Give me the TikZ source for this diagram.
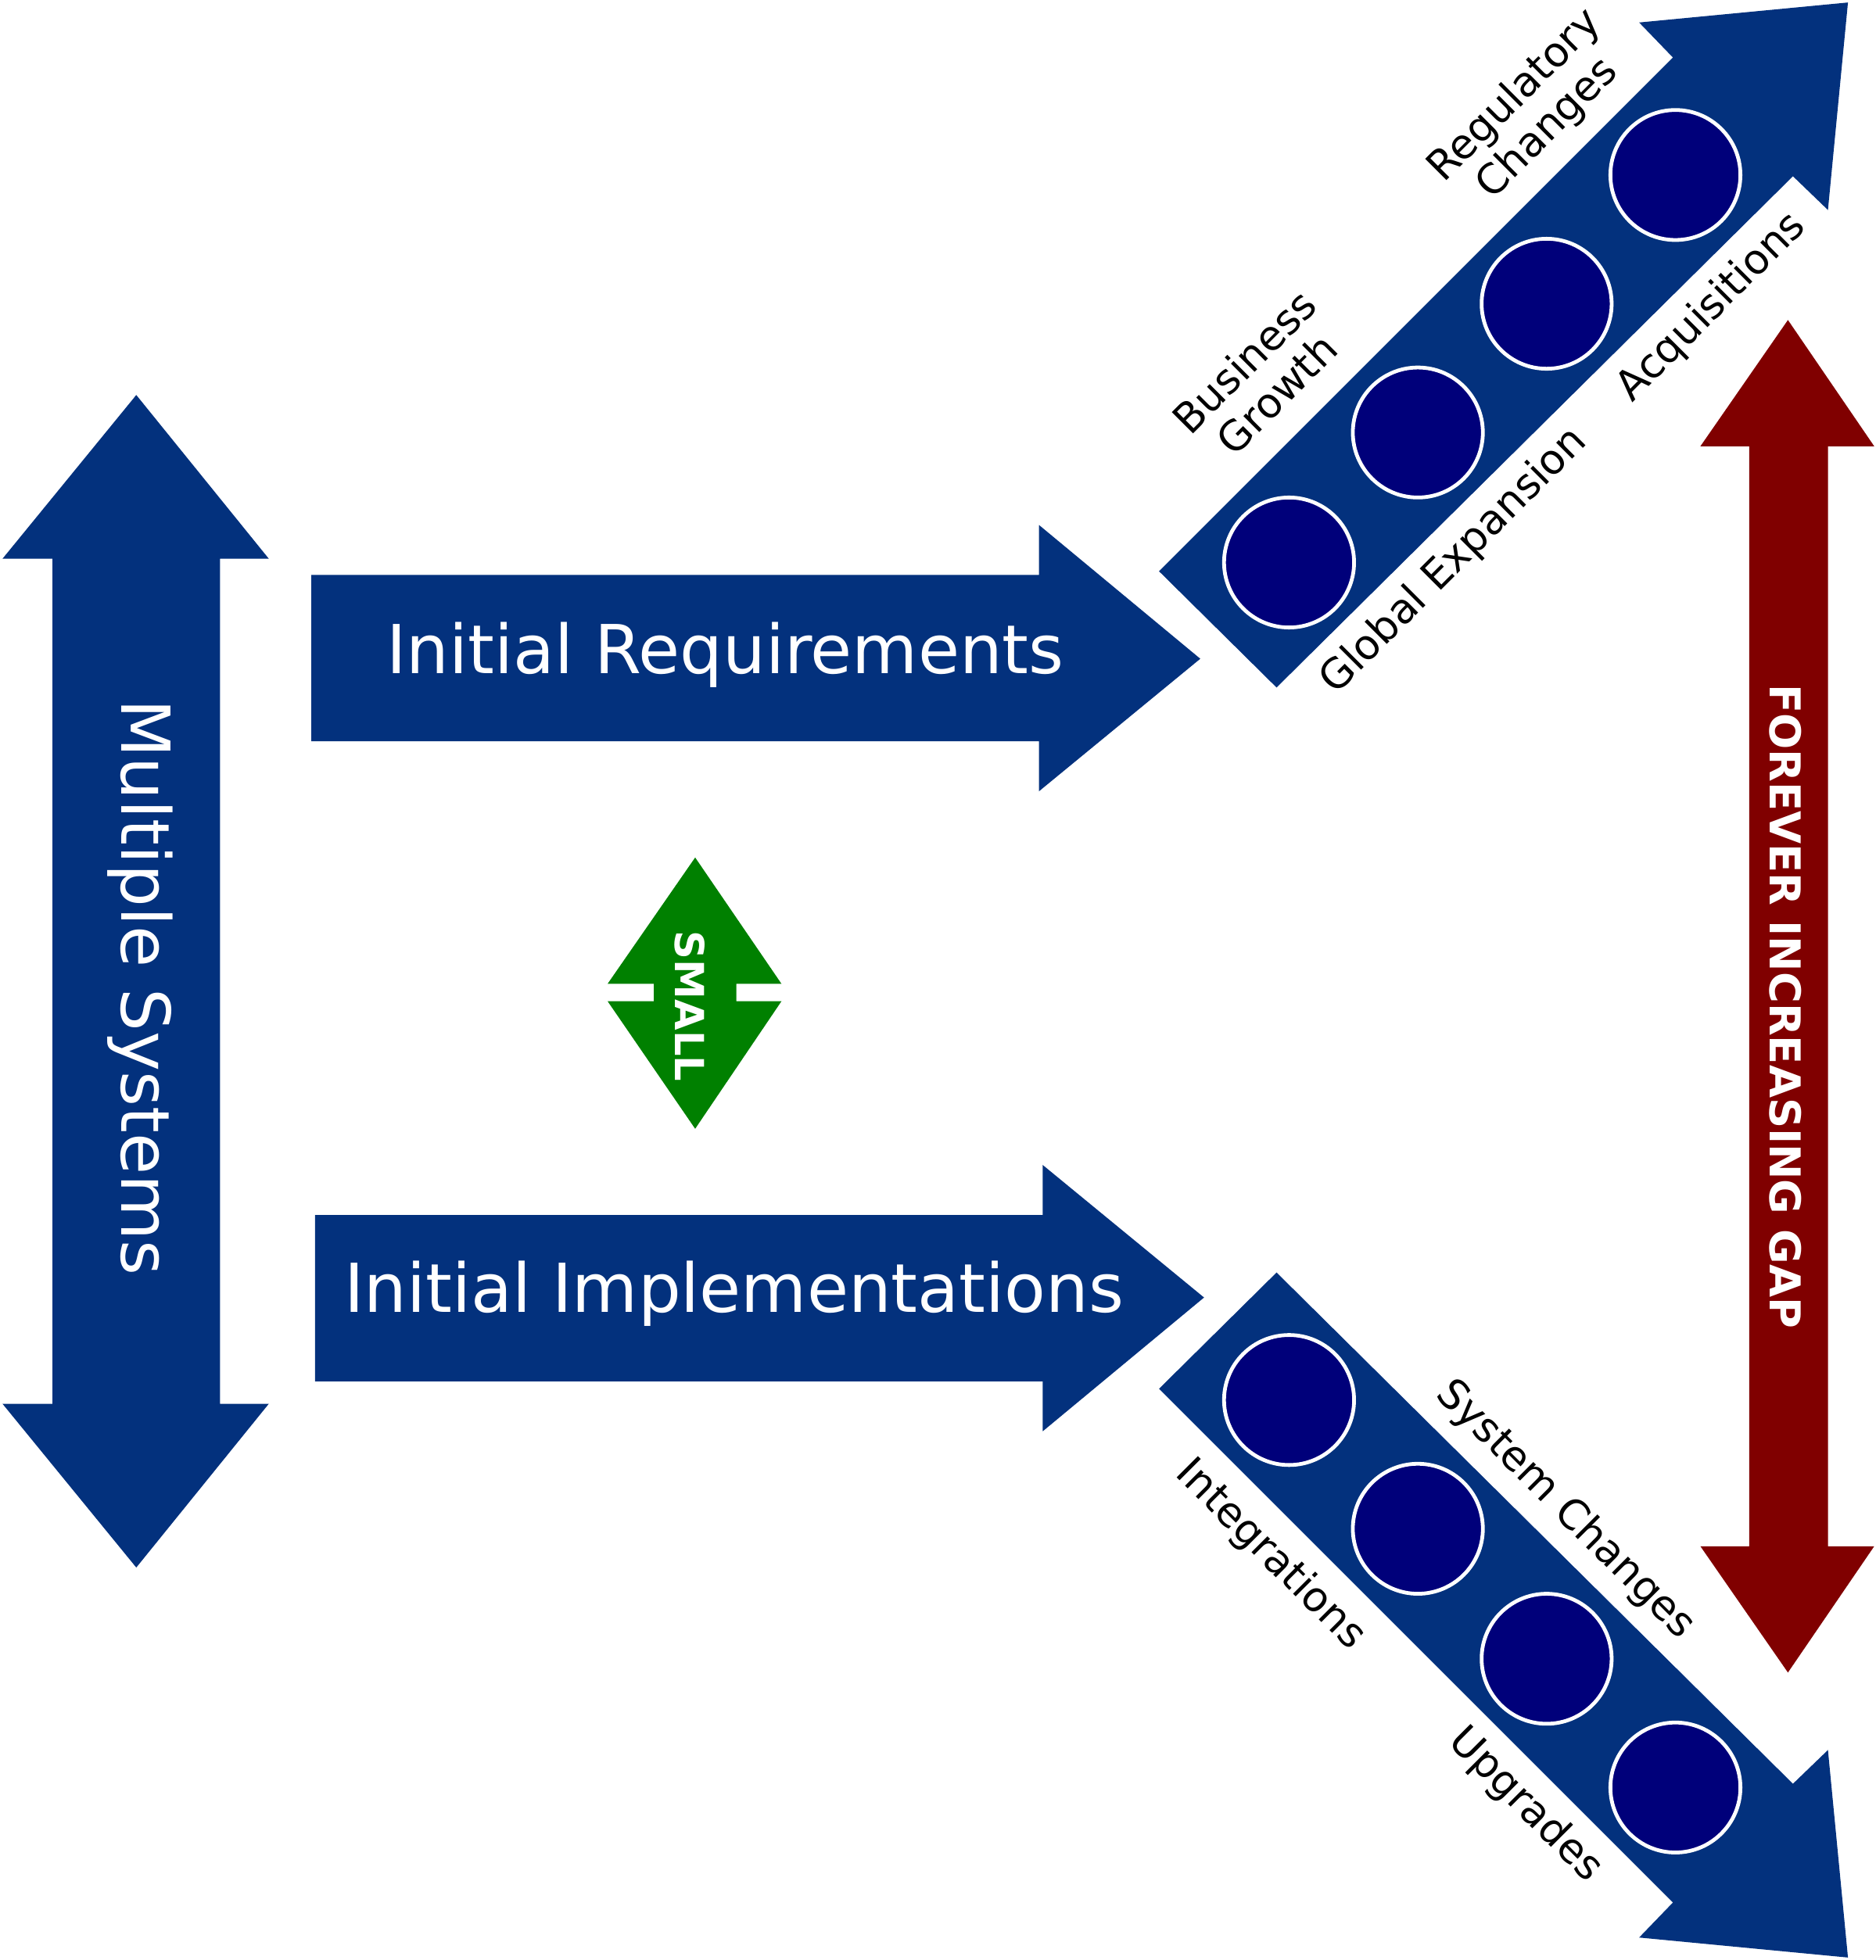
\documentclass[tikz,border=0pt]{standalone}
\usepackage{fontspec}
\setmainfont{DejaVu Sans}
\definecolor{ablue}{HTML}{03317D}
\definecolor{cnavy}{HTML}{00007A}
\definecolor{agreen}{HTML}{008000}
\definecolor{ared}{HTML}{800000}
\begin{document}
\begin{tikzpicture}[x=1pt,y=-1pt,
  dot/.style={circle,fill=cnavy,draw=white,line width=3pt,minimum size=104pt,inner sep=0pt},
  lab/.style={font=\fontsize{33}{37}\selectfont,align=center,text=black},
  big/.style={font=\fontsize{54}{58}\selectfont,text=white}]
\useasboundingbox (0,0) rectangle (1500,1568);
% left double arrow
\fill[ablue] (109,316) -- (215,447) -- (176,447) -- (176,1123) -- (215,1123) -- (109,1254) -- (2,1123) -- (42,1123) -- (42,447) -- (2,447) -- cycle;
\node[big,rotate=-90] (ms) at (112,790) {Multiple Systems};
% initial requirements
\fill[ablue] (249,460) -- (831,460) -- (831,420) -- (960,527) -- (831,633) -- (831,593) -- (249,593) -- cycle;
\node[big] (ir) at (580,524) {Initial Requirements};
\fill[ablue] (252,972) -- (834,972) -- (834,932) -- (963,1038) -- (834,1145) -- (834,1105) -- (252,1105) -- cycle;
\node[big] (ii) at (587,1035) {Initial Implementations};
% small
\fill[agreen] (556,686) -- (625,787) -- (589,787) -- (589,801) -- (625,801) -- (556,903) -- (486,801) -- (523,801) -- (523,787) -- (486,787) -- cycle;
\node[rotate=-90,text=white,font=\bfseries\fontsize{32}{34}\selectfont] (sm) at (552,805) {SMALL};
% red gap
\fill[ared] (1430,256) -- (1499,357) -- (1462,357) -- (1462,1237) -- (1499,1237) -- (1430,1338) -- (1360,1237) -- (1399,1237) -- (1399,357) -- (1360,357) -- cycle;
\node[rotate=-90,text=white,font=\bfseries\fontsize{34}{36}\selectfont] (gap) at (1428,805) {FOREVER INCREASING GAP};
% diagonal arrows
\fill[ablue] (927,457) -- (1338,46) -- (1311,18) -- (1478,2) -- (1462,168) -- (1434,141) -- (1021,550) -- cycle;
\fill[ablue] (927,1111) -- (1021,1018) -- (1434,1427) -- (1462,1400) -- (1478,1566) -- (1311,1550) -- (1338,1522) -- cycle;
\node[dot] (u1) at (1031,450) {};
\node[dot] (u2) at (1134,346) {};
\node[dot] (u3) at (1237,243) {};
\node[dot] (u4) at (1340,140) {};
\node[dot] (d1) at (1031,1120) {};
\node[dot] (d2) at (1134,1223) {};
\node[dot] (d3) at (1237,1327) {};
\node[dot] (d4) at (1340,1430) {};
\node[lab,rotate=45] (bg) at (1008,302) {Business\\Growth};
\node[lab,rotate=45] (rc) at (1225,90) {Regulatory\\Changes};
\node[lab,rotate=45] (ge) at (1163,449) {Global Expansion};
\node[lab,rotate=45] (aq) at (1369,246) {Acquisitions};
\node[lab,rotate=-45] (in) at (1016,1244) {Integrations};
\node[lab,rotate=-45] (sc) at (1252,1208) {System Changes};
\node[lab,rotate=-45] (up) at (1220,1444) {Upgrades};
\end{tikzpicture}
\end{document}
